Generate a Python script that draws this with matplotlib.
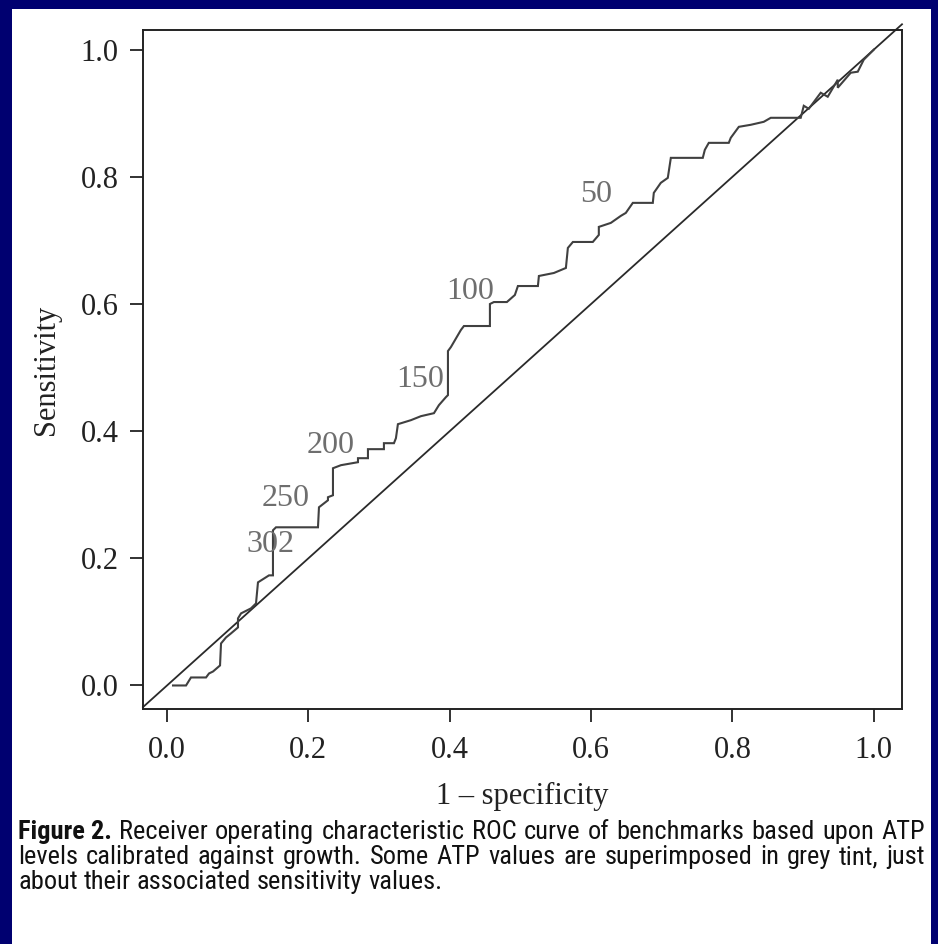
import matplotlib
matplotlib.use("Agg")
import matplotlib.pyplot as plt
from matplotlib import font_manager
from matplotlib.patches import Rectangle

# ROC curve vertices: false-positive rate (1 - specificity) and sensitivity
fpr = [0.0085, 0.0269, 0.0339, 0.0552, 0.0594, 0.0651, 0.0750, 0.0764, 0.0835, 0.0905,
       0.1004, 0.1004, 0.1047, 0.1188, 0.1259, 0.1287, 0.1443, 0.1499, 0.1499, 0.1542,
       0.2136, 0.2150, 0.2277, 0.2277, 0.2348, 0.2348, 0.2461, 0.2702, 0.2702, 0.2843,
       0.2843, 0.3069, 0.3069, 0.3211, 0.3239, 0.3267, 0.3451, 0.3593, 0.3777, 0.3847,
       0.3946, 0.3975, 0.3975, 0.4017, 0.4158, 0.4201, 0.4569, 0.4569, 0.4625, 0.4809,
       0.4922, 0.4965, 0.5248, 0.5262, 0.5474, 0.5644, 0.5672, 0.5743, 0.6025, 0.6110,
       0.6110, 0.6280, 0.6421, 0.6492, 0.6591, 0.6874, 0.6888, 0.6987, 0.7086, 0.7129,
       0.7581, 0.7610, 0.7666, 0.7949, 0.7977, 0.8091, 0.8260, 0.8444, 0.8543, 0.8967,
       0.9010, 0.9081, 0.9250, 0.9349, 0.9491, 0.9491, 0.9675, 0.9774, 0.9859, 1.0000]
tpr = [0.0000, 0.0000, 0.0126, 0.0126, 0.0189, 0.0220, 0.0315, 0.0661, 0.0756, 0.0819,
       0.0913, 0.1055, 0.1134, 0.1213, 0.1291, 0.1622, 0.1732, 0.1732, 0.2441, 0.2488,
       0.2488, 0.2803, 0.2913, 0.2961, 0.2992, 0.3417, 0.3465, 0.3512, 0.3575, 0.3575,
       0.3717, 0.3717, 0.3811, 0.3811, 0.3890, 0.4110, 0.4173, 0.4236, 0.4283, 0.4409,
       0.4535, 0.4567, 0.5260, 0.5323, 0.5591, 0.5654, 0.5654, 0.6000, 0.6031, 0.6031,
       0.6142, 0.6283, 0.6283, 0.6441, 0.6488, 0.6567, 0.6882, 0.6976, 0.6976, 0.7087,
       0.7213, 0.7276, 0.7386, 0.7433, 0.7591, 0.7591, 0.7748, 0.7906, 0.7984, 0.8299,
       0.8299, 0.8425, 0.8535, 0.8535, 0.8614, 0.8787, 0.8819, 0.8866, 0.8929, 0.8929,
       0.9118, 0.9071, 0.9323, 0.9260, 0.9528, 0.9402, 0.9638, 0.9654, 0.9843, 1.0000]

# ATP thresholds written next to their sensitivity
atp_labels = ["50", "100", "150", "200", "250", "302"]
atp_fpr = [0.6065, 0.4296, 0.3588, 0.2314, 0.1677, 0.1465]
atp_tpr = [0.772, 0.619, 0.481, 0.378, 0.2935, 0.221]

ticks = [0.0, 0.2, 0.4, 0.6, 0.8, 1.0]
tick_labels = ["0.0", "0.2", "0.4", "0.6", "0.8", "1.0"]

caption_lines = [
    ["Figure 2.", "Receiver operating characteristic ROC curve of benchmarks based upon ATP"],
    ["", "levels calibrated against growth. Some ATP values are superimposed in grey tint, just"],
    ["", "about their associated sensitivity values."],
]

W, H = 938, 944
NAVY = "#000070"
SERIF = "Liberation Serif"


def pick_font(*names):
    avail = {f.name for f in font_manager.fontManager.ttflist}
    for n in names:
        if n in avail:
            return n
    return "DejaVu Sans"


CAP_FONT = pick_font("Liberation Sans Narrow", "Roboto Condensed", "Open Sans", "Liberation Sans")

fig = plt.figure(figsize=(W / 100, H / 100), dpi=100, facecolor=NAVY)
fig.patches.append(Rectangle((12 / W, 0), (931 - 12) / W, 1 - 9 / H,
                             transform=fig.transFigure, facecolor="white",
                             edgecolor="none", zorder=-10))

ax = fig.add_axes([143 / W, 1 - 709 / H, (902 - 143) / W, (709 - 30) / H])
ax.set_xlim(-0.034, 1.040)
ax.set_ylim(-0.037, 1.031)

# chance diagonal, running corner to corner past the frame
ax.plot([-0.034, 1.040], [-0.034, 1.040], color="#2a2a2a", lw=1.3, clip_on=False, zorder=2)
ax.plot(fpr, tpr, color="#404040", lw=1.5, solid_joinstyle="miter", zorder=3)

for lab, x, y in zip(atp_labels, atp_fpr, atp_tpr):
    ax.text(x, y, lab, ha="center", va="center", fontsize=23, family=SERIF,
            color="#6e6e6e", zorder=4)

ax.set_xticks(ticks)
ax.set_xticklabels(tick_labels)
ax.set_yticks(ticks)
ax.set_yticklabels(tick_labels)
ax.tick_params(direction="out", length=9.5, width=1.3, colors="#222222",
               labelsize=22, pad=8)
ax.tick_params(axis="x", pad=10)
for lab in ax.get_xticklabels() + ax.get_yticklabels():
    lab.set_family(SERIF)
for sp in ax.spines.values():
    sp.set_linewidth(1.4)
    sp.set_color("#222222")

ax.set_xlabel("1 \u2013 specificity", fontsize=22, family=SERIF, color="#222222", labelpad=12.5)
ax.set_ylabel("Sensitivity", fontsize=22, family=SERIF, color="#222222", labelpad=14)

# caption: fit the first line to the text block, then justify
fig.canvas.draw()
renderer = fig.canvas.get_renderer()


def text_width(s, size, weight="normal"):
    t = fig.text(0, 0, s, fontsize=size, family=CAP_FONT, fontweight=weight)
    w = t.get_window_extent(renderer).width
    t.remove()
    return w


x_left, x_right = 18.0, 925.0
base = 12.0
line1_nat = (text_width(caption_lines[0][0], base, "bold") + text_width(" ", base)
             + text_width(caption_lines[0][1], base))
size = base * (x_right - x_left) / line1_nat * 0.985
space = text_width("a a", size) - text_width("aa", size)

baselines = [839, 864, 889]
for i, (bold, rest) in enumerate(caption_lines):
    words = []
    if bold:
        words.append((bold, "bold"))
    words += [(w, "normal") for w in rest.split(" ")]
    widths = [text_width(w, size, wt) for w, wt in words]
    if i < 2:
        gap = (x_right - x_left - sum(widths)) / (len(words) - 1)
    else:
        gap = space
    x = x_left
    for (w, wt), wd in zip(words, widths):
        fig.text(x / W, 1 - baselines[i] / H, w, fontsize=size, family=CAP_FONT,
                 fontweight=wt, color="#111111", va="baseline", ha="left")
        x += wd + gap

fig.savefig("out.png", dpi=100, facecolor=NAVY)
